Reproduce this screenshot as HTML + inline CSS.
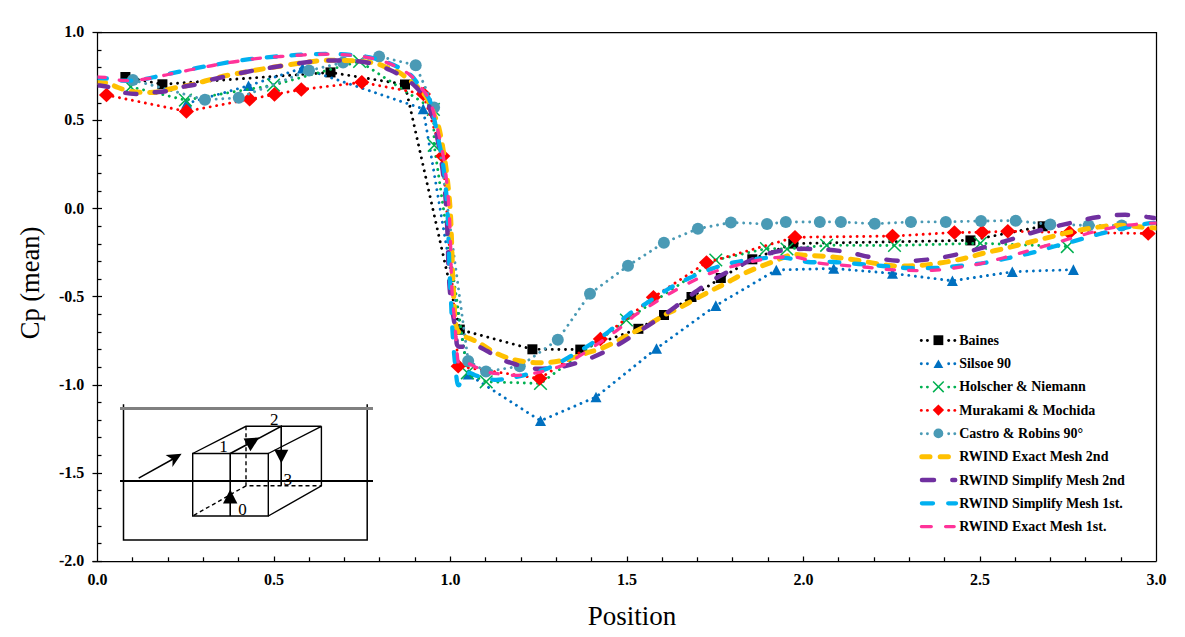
<!DOCTYPE html>
<html><head><meta charset="utf-8"><title>Cp chart</title>
<style>
html,body{margin:0;padding:0;background:#fff;}
body{width:1185px;height:637px;overflow:hidden;font-family:"Liberation Serif",serif;}
svg{display:block;position:absolute;left:0;top:0;}
</style></head>
<body>
<svg width="1185" height="637" viewBox="0 0 1185 637">
<rect width="1185" height="637" fill="#fff"/>
<g stroke="#000" stroke-width="1.25" fill="none" shape-rendering="auto">
<path d="M97.5 32.5 H1156.5 V561.5"/>
<path d="M97.5 32.5 V561.5"/>
<path d="M92.5 561.5 H1156.5"/>
<path d="M92.5 32.5 H102"/>
<path d="M97.5 50.5 H101.5"/>
<path d="M97.5 67.5 H101.5"/>
<path d="M97.5 85.5 H101.5"/>
<path d="M97.5 103.5 H101.5"/>
<path d="M92.5 120.5 H102"/>
<path d="M97.5 138.5 H101.5"/>
<path d="M97.5 155.5 H101.5"/>
<path d="M97.5 173.5 H101.5"/>
<path d="M97.5 191.5 H101.5"/>
<path d="M92.5 208.5 H102"/>
<path d="M97.5 226.5 H101.5"/>
<path d="M97.5 244.5 H101.5"/>
<path d="M97.5 261.5 H101.5"/>
<path d="M97.5 279.5 H101.5"/>
<path d="M92.5 296.5 H102"/>
<path d="M97.5 314.5 H101.5"/>
<path d="M97.5 332.5 H101.5"/>
<path d="M97.5 349.5 H101.5"/>
<path d="M97.5 367.5 H101.5"/>
<path d="M92.5 385.5 H102"/>
<path d="M97.5 402.5 H101.5"/>
<path d="M97.5 420.5 H101.5"/>
<path d="M97.5 437.5 H101.5"/>
<path d="M97.5 455.5 H101.5"/>
<path d="M92.5 473.5 H102"/>
<path d="M97.5 490.5 H101.5"/>
<path d="M97.5 508.5 H101.5"/>
<path d="M97.5 526.5 H101.5"/>
<path d="M97.5 543.5 H101.5"/>
<path d="M92.5 561.5 H102"/>
<path d="M132.5 561.5 V557.3"/>
<path d="M168.5 561.5 V557.3"/>
<path d="M203.5 561.5 V557.3"/>
<path d="M238.5 561.5 V557.3"/>
<path d="M274.5 561.5 V556.5"/>
<path d="M309.5 561.5 V557.3"/>
<path d="M344.5 561.5 V557.3"/>
<path d="M379.5 561.5 V557.3"/>
<path d="M415.5 561.5 V557.3"/>
<path d="M450.5 561.5 V556.5"/>
<path d="M485.5 561.5 V557.3"/>
<path d="M521.5 561.5 V557.3"/>
<path d="M556.5 561.5 V557.3"/>
<path d="M591.5 561.5 V557.3"/>
<path d="M627.5 561.5 V556.5"/>
<path d="M662.5 561.5 V557.3"/>
<path d="M697.5 561.5 V557.3"/>
<path d="M732.5 561.5 V557.3"/>
<path d="M768.5 561.5 V557.3"/>
<path d="M803.5 561.5 V556.5"/>
<path d="M838.5 561.5 V557.3"/>
<path d="M874.5 561.5 V557.3"/>
<path d="M909.5 561.5 V557.3"/>
<path d="M944.5 561.5 V557.3"/>
<path d="M980.5 561.5 V556.5"/>
<path d="M1015.5 561.5 V557.3"/>
<path d="M1050.5 561.5 V557.3"/>
<path d="M1085.5 561.5 V557.3"/>
<path d="M1121.5 561.5 V557.3"/>
</g>
<g font-family="Liberation Serif" font-weight="bold" font-size="16" fill="#000">
<text x="84.3" y="37" text-anchor="end">1.0</text>
<text x="84.3" y="125.2" text-anchor="end">0.5</text>
<text x="84.3" y="214.1" text-anchor="end">0.0</text>
<text x="84.3" y="302.2" text-anchor="end">-0.5</text>
<text x="84.3" y="389.6" text-anchor="end">-1.0</text>
<text x="84.3" y="477.7" text-anchor="end">-1.5</text>
<text x="84.3" y="565.8" text-anchor="end">-2.0</text>
<text x="97.5" y="585" text-anchor="middle">0.0</text>
<text x="274" y="585" text-anchor="middle">0.5</text>
<text x="450.5" y="585" text-anchor="middle">1.0</text>
<text x="627" y="585" text-anchor="middle">1.5</text>
<text x="803.5" y="585" text-anchor="middle">2.0</text>
<text x="980" y="585" text-anchor="middle">2.5</text>
<text x="1156.5" y="585" text-anchor="middle">3.0</text>
</g>
<text x="632" y="625" text-anchor="middle" font-family="Liberation Serif" font-size="27" fill="#000">Position</text>
<text transform="translate(38.6 283) rotate(-90)" text-anchor="middle" font-family="Liberation Serif" font-size="26.5" fill="#000">Cp (mean)</text>
<g stroke="#000" stroke-width="1.5" fill="none" stroke-linecap="round">
<path d="M123.5 404.3 V540 H367.2 V404.3" stroke-linecap="butt"/>
</g>
<path d="M120 408.5 H373" stroke="#808080" stroke-width="2.8"/>
<path d="M120 481 H373" stroke="#000" stroke-width="2"/>
<g stroke="#000" stroke-width="1.4" fill="none">
<path d="M192.7 453.5 H268.3 V516 H192.7 Z"/>
<path d="M192.7 453.5 L246 426.3 H321.4 L268.3 453.5 M321.4 426.3 V485.8 L268.3 516"/>
<path d="M246 426.3 V485.8 H321.4 M246 485.8 L192.7 516" stroke-dasharray="4 3"/>
<path d="M230.2 516 V453.5 L281.2 426.3 V485.8" stroke-width="1.6"/>
</g>
<path d="M230.2 489.6 L237.4 503.4 L223.0 503.4Z" fill="#000"/>
<path d="M243.6 438.4 L259.2 437.6 L250.4 451.2Z" fill="#000"/>
<path d="M274.3 449.7 L288.3 449.7 L281.3 463.2Z" fill="#000"/>
<path d="M138.7 478.2 L174 458.5" stroke="#000" stroke-width="1.5"/>
<path d="M181.6 453.8 L165.6 455.0 L172.6 459.6 L172.4 467.0Z" fill="#000"/>
<g font-family="Liberation Serif" font-size="17" fill="#000">
<text x="219.2" y="452.3">1</text>
<text x="270" y="424.8">2</text>
<text x="283.4" y="484.8">3</text>
<text x="238.2" y="514.8">0</text>
</g>
<path d="M125.4 77 L162.4 84.3 L330.5 72.4 L405 84.5 L459.8 329.6 L532.4 349.3 L580.3 349.6 L638.4 328.8 L664 315 L691.5 297 L720.8 278 L752.3 259.3 L793.3 243.6 L970.4 240.4 L1042.7 226.3" stroke="#000000" stroke-width="2.9" stroke-linecap="round" stroke-dasharray="0.01 6.6" fill="none"/>
<rect x="120.4" y="72" width="10" height="10" fill="#000000"/>
<rect x="157.4" y="79.3" width="10" height="10" fill="#000000"/>
<rect x="325.5" y="67.4" width="10" height="10" fill="#000000"/>
<rect x="400" y="79.5" width="10" height="10" fill="#000000"/>
<rect x="454.8" y="324.6" width="10" height="10" fill="#000000"/>
<rect x="527.4" y="344.3" width="10" height="10" fill="#000000"/>
<rect x="575.3" y="344.6" width="10" height="10" fill="#000000"/>
<rect x="633.4" y="323.8" width="10" height="10" fill="#000000"/>
<rect x="659" y="310" width="10" height="10" fill="#000000"/>
<rect x="686.5" y="292" width="10" height="10" fill="#000000"/>
<rect x="715.8" y="273" width="10" height="10" fill="#000000"/>
<rect x="747.3" y="254.3" width="10" height="10" fill="#000000"/>
<rect x="788.3" y="238.6" width="10" height="10" fill="#000000"/>
<rect x="965.4" y="235.4" width="10" height="10" fill="#000000"/>
<rect x="1037.7" y="221.3" width="10" height="10" fill="#000000"/>
<path d="M186.6 103.5 L248.5 85.7 L302.5 68.1 L423.2 108.9 L468.2 374.3 L540.5 420.8 L596 397 L656.5 348.5 L715.8 305.6 L776.3 270 L833.7 268.5 L892.5 273.4 L952.4 280.8 L1012.3 271.8 L1073.4 269.6" stroke="#0070C0" stroke-width="2.9" stroke-linecap="round" stroke-dasharray="0.01 6.6" fill="none"/>
<path d="M186.6 98.2 L192.1 108.8 L181.1 108.8Z" fill="#0070C0"/>
<path d="M248.5 80.4 L254 91 L243 91Z" fill="#0070C0"/>
<path d="M302.5 62.8 L308 73.4 L297 73.4Z" fill="#0070C0"/>
<path d="M423.2 103.6 L428.7 114.2 L417.7 114.2Z" fill="#0070C0"/>
<path d="M468.2 369 L473.7 379.6 L462.7 379.6Z" fill="#0070C0"/>
<path d="M540.5 415.5 L546 426.1 L535 426.1Z" fill="#0070C0"/>
<path d="M596 391.7 L601.5 402.3 L590.5 402.3Z" fill="#0070C0"/>
<path d="M656.5 343.2 L662 353.8 L651 353.8Z" fill="#0070C0"/>
<path d="M715.8 300.3 L721.3 310.9 L710.3 310.9Z" fill="#0070C0"/>
<path d="M776.3 264.7 L781.8 275.3 L770.8 275.3Z" fill="#0070C0"/>
<path d="M833.7 263.2 L839.2 273.8 L828.2 273.8Z" fill="#0070C0"/>
<path d="M892.5 268.1 L898 278.7 L887 278.7Z" fill="#0070C0"/>
<path d="M952.4 275.5 L957.9 286.1 L946.9 286.1Z" fill="#0070C0"/>
<path d="M1012.3 266.5 L1017.8 277.1 L1006.8 277.1Z" fill="#0070C0"/>
<path d="M1073.4 264.3 L1078.9 274.9 L1067.9 274.9Z" fill="#0070C0"/>
<path d="M130.7 86.8 L185.4 100.1 L273.5 85.1 L359.6 61.4 L433.4 109.4 L434.2 145.3 L467.4 372.8 L486.2 381.8 L540.5 383.5 L626.4 320 L715.8 260 L766.4 248.6 L787 249 L826.6 245.3 L894.5 245.5 L980.4 243.3 L1067.3 246.6" stroke="#00B050" stroke-width="2.9" stroke-linecap="round" stroke-dasharray="0.01 6.6" fill="none"/>
<path d="M124.4 80.5 L137 93.1 M124.4 93.1 L137 80.5" stroke="#00B050" stroke-width="1.5" fill="none"/>
<path d="M179.1 93.8 L191.7 106.4 M179.1 106.4 L191.7 93.8" stroke="#00B050" stroke-width="1.5" fill="none"/>
<path d="M267.2 78.8 L279.8 91.4 M267.2 91.4 L279.8 78.8" stroke="#00B050" stroke-width="1.5" fill="none"/>
<path d="M353.3 55.1 L365.9 67.7 M353.3 67.7 L365.9 55.1" stroke="#00B050" stroke-width="1.5" fill="none"/>
<path d="M427.1 103.1 L439.7 115.7 M427.1 115.7 L439.7 103.1" stroke="#00B050" stroke-width="1.5" fill="none"/>
<path d="M427.9 139 L440.5 151.6 M427.9 151.6 L440.5 139" stroke="#00B050" stroke-width="1.5" fill="none"/>
<path d="M461.1 366.5 L473.7 379.1 M461.1 379.1 L473.7 366.5" stroke="#00B050" stroke-width="1.5" fill="none"/>
<path d="M479.9 375.5 L492.5 388.1 M479.9 388.1 L492.5 375.5" stroke="#00B050" stroke-width="1.5" fill="none"/>
<path d="M534.2 377.2 L546.8 389.8 M534.2 389.8 L546.8 377.2" stroke="#00B050" stroke-width="1.5" fill="none"/>
<path d="M620.1 313.7 L632.7 326.3 M620.1 326.3 L632.7 313.7" stroke="#00B050" stroke-width="1.5" fill="none"/>
<path d="M709.5 253.7 L722.1 266.3 M709.5 266.3 L722.1 253.7" stroke="#00B050" stroke-width="1.5" fill="none"/>
<path d="M760.1 242.3 L772.7 254.9 M760.1 254.9 L772.7 242.3" stroke="#00B050" stroke-width="1.5" fill="none"/>
<path d="M780.7 242.7 L793.3 255.3 M780.7 255.3 L793.3 242.7" stroke="#00B050" stroke-width="1.5" fill="none"/>
<path d="M820.3 239 L832.9 251.6 M820.3 251.6 L832.9 239" stroke="#00B050" stroke-width="1.5" fill="none"/>
<path d="M888.2 239.2 L900.8 251.8 M888.2 251.8 L900.8 239.2" stroke="#00B050" stroke-width="1.5" fill="none"/>
<path d="M974.1 237 L986.7 249.6 M974.1 249.6 L986.7 237" stroke="#00B050" stroke-width="1.5" fill="none"/>
<path d="M1061 240.3 L1073.6 252.9 M1061 252.9 L1073.6 240.3" stroke="#00B050" stroke-width="1.5" fill="none"/>
<path d="M106.5 95 L186.4 111.4 L249.6 99.3 L274.5 94.4 L301.3 89.5 L361.8 82.3 L423.4 94 L442.8 156.1 L458.2 366.2 L539.7 378.5 L600.4 339 L653.4 297.2 L706.5 262.6 L795 237.3 L892.5 236.1 L954.4 232.5 L982.2 232.3 L1007.8 231.3 L1069.4 232.5 L1148.2 233.5" stroke="#FF0000" stroke-width="2.9" stroke-linecap="round" stroke-dasharray="0.01 6.6" fill="none"/>
<path d="M106.5 87.7 L114.1 95 L106.5 102.3 L98.9 95Z" fill="#FF0000"/>
<path d="M186.4 104.1 L194 111.4 L186.4 118.7 L178.8 111.4Z" fill="#FF0000"/>
<path d="M249.6 92 L257.2 99.3 L249.6 106.6 L242 99.3Z" fill="#FF0000"/>
<path d="M274.5 87.1 L282.1 94.4 L274.5 101.7 L266.9 94.4Z" fill="#FF0000"/>
<path d="M301.3 82.2 L308.9 89.5 L301.3 96.8 L293.7 89.5Z" fill="#FF0000"/>
<path d="M361.8 75 L369.4 82.3 L361.8 89.6 L354.2 82.3Z" fill="#FF0000"/>
<path d="M423.4 86.7 L431 94 L423.4 101.3 L415.8 94Z" fill="#FF0000"/>
<path d="M442.8 148.8 L450.4 156.1 L442.8 163.4 L435.2 156.1Z" fill="#FF0000"/>
<path d="M458.2 358.9 L465.8 366.2 L458.2 373.5 L450.6 366.2Z" fill="#FF0000"/>
<path d="M539.7 371.2 L547.3 378.5 L539.7 385.8 L532.1 378.5Z" fill="#FF0000"/>
<path d="M600.4 331.7 L608 339 L600.4 346.3 L592.8 339Z" fill="#FF0000"/>
<path d="M653.4 289.9 L661 297.2 L653.4 304.5 L645.8 297.2Z" fill="#FF0000"/>
<path d="M706.5 255.3 L714.1 262.6 L706.5 269.9 L698.9 262.6Z" fill="#FF0000"/>
<path d="M795 230 L802.6 237.3 L795 244.6 L787.4 237.3Z" fill="#FF0000"/>
<path d="M892.5 228.8 L900.1 236.1 L892.5 243.4 L884.9 236.1Z" fill="#FF0000"/>
<path d="M954.4 225.2 L962 232.5 L954.4 239.8 L946.8 232.5Z" fill="#FF0000"/>
<path d="M982.2 225 L989.8 232.3 L982.2 239.6 L974.6 232.3Z" fill="#FF0000"/>
<path d="M1007.8 224 L1015.4 231.3 L1007.8 238.6 L1000.2 231.3Z" fill="#FF0000"/>
<path d="M1069.4 225.2 L1077 232.5 L1069.4 239.8 L1061.8 232.5Z" fill="#FF0000"/>
<path d="M1148.2 226.2 L1155.8 233.5 L1148.2 240.8 L1140.6 233.5Z" fill="#FF0000"/>
<path d="M132.9 80 L204.9 99.8 L238.8 97.8 L309 70.6 L343.1 62.5 L379.1 56.4 L415.7 65.3 L434.1 107.6 L468.2 361 L486 371.6 L519.8 366.2 L557.8 339.8 L590 293.7 L628 265.8 L663.9 242.7 L697.9 228.7 L730.9 222.5 L767 224 L785.8 222 L819.8 221.9 L840.9 221.9 L874.7 223.8 L910.9 221.9 L945.8 221.9 L981 221 L1015.7 220.7 L1050.3 224.5 L1088.6 225.4 L1121.7 225.4" stroke="#4A9AB5" stroke-width="2.9" stroke-linecap="round" stroke-dasharray="0.01 6.6" fill="none"/>
<circle cx="132.9" cy="80" r="6" fill="#4A9AB5"/>
<circle cx="204.9" cy="99.8" r="6" fill="#4A9AB5"/>
<circle cx="238.8" cy="97.8" r="6" fill="#4A9AB5"/>
<circle cx="309" cy="70.6" r="6" fill="#4A9AB5"/>
<circle cx="343.1" cy="62.5" r="6" fill="#4A9AB5"/>
<circle cx="379.1" cy="56.4" r="6" fill="#4A9AB5"/>
<circle cx="415.7" cy="65.3" r="6" fill="#4A9AB5"/>
<circle cx="434.1" cy="107.6" r="6" fill="#4A9AB5"/>
<circle cx="468.2" cy="361" r="6" fill="#4A9AB5"/>
<circle cx="486" cy="371.6" r="6" fill="#4A9AB5"/>
<circle cx="519.8" cy="366.2" r="6" fill="#4A9AB5"/>
<circle cx="557.8" cy="339.8" r="6" fill="#4A9AB5"/>
<circle cx="590" cy="293.7" r="6" fill="#4A9AB5"/>
<circle cx="628" cy="265.8" r="6" fill="#4A9AB5"/>
<circle cx="663.9" cy="242.7" r="6" fill="#4A9AB5"/>
<circle cx="697.9" cy="228.7" r="6" fill="#4A9AB5"/>
<circle cx="730.9" cy="222.5" r="6" fill="#4A9AB5"/>
<circle cx="767" cy="224" r="6" fill="#4A9AB5"/>
<circle cx="785.8" cy="222" r="6" fill="#4A9AB5"/>
<circle cx="819.8" cy="221.9" r="6" fill="#4A9AB5"/>
<circle cx="840.9" cy="221.9" r="6" fill="#4A9AB5"/>
<circle cx="874.7" cy="223.8" r="6" fill="#4A9AB5"/>
<circle cx="910.9" cy="221.9" r="6" fill="#4A9AB5"/>
<circle cx="945.8" cy="221.9" r="6" fill="#4A9AB5"/>
<circle cx="981" cy="221" r="6" fill="#4A9AB5"/>
<circle cx="1015.7" cy="220.7" r="6" fill="#4A9AB5"/>
<circle cx="1050.3" cy="224.5" r="6" fill="#4A9AB5"/>
<circle cx="1088.6" cy="225.4" r="6" fill="#4A9AB5"/>
<circle cx="1121.7" cy="225.4" r="6" fill="#4A9AB5"/>
<defs><clipPath id="pa"><rect x="97.6" y="20" width="1058.9" height="545"/></clipPath></defs>
<g clip-path="url(#pa)">
<path d="M97 82.4 C98.8 82.5 104.5 82.4 108 83.2 C111.5 84 114.3 86.2 118 87.5 C121.7 88.8 125.5 90.4 130 91.2 C134.5 92 140.5 92.4 145 92.5 C149.5 92.6 152.8 92.6 157 92 C161.2 91.4 165.8 89.9 170 89 C174.2 88.1 177.8 87.3 182 86.5 C186.2 85.7 191.2 84.9 195 84 C198.8 83.1 200.3 82.3 205 81 C209.7 79.7 216.2 77.8 223 76.3 C229.8 74.8 237.9 73.4 246 71.9 C254.1 70.4 262.3 69 271.5 67.5 C280.7 66 291.8 64.2 301 63 C310.2 61.8 317.8 60.7 326.5 60.3 C335.2 59.9 346.2 60.5 353 60.8 C359.8 61.1 363.1 61.4 367.3 61.9 C371.5 62.4 374.8 63.1 378.2 64.1 C381.6 65.1 384.5 66.6 388 68 C391.5 69.4 395.7 70.6 399 72.4 C402.3 74.2 405.4 77.1 408 79 C410.6 80.9 412.3 81.9 414.5 83.9 C416.7 85.9 419 88.7 421 91 C423 93.3 424.5 93.9 426.6 97.6 C428.7 101.3 431.4 107.9 433.4 113 C435.5 118.1 437.1 120.9 438.9 128 C440.7 135.1 442.7 146.7 444.1 155.6 C445.6 164.5 446.6 172.4 447.6 181.5 C448.6 190.6 449.5 199.9 450.2 210 C450.9 220.1 451.2 231.3 451.6 241.8 C452 252.3 452.2 263.3 452.6 273 C453 282.7 453.6 292.2 454 300 C454.4 307.8 454.6 314.9 455.2 320 C455.8 325.1 456.1 327.8 457.6 330.5 C459.1 333.2 461.6 334.5 464 336 C466.4 337.5 469.3 338.2 472 339.5 C474.7 340.8 476.7 341.4 480.3 343.5 C483.9 345.6 488.7 349.4 493.8 352 C498.9 354.6 505 357.2 511 358.9 C517 360.6 523.7 361.7 530 362.3 C536.3 362.9 542.6 362.8 549 362.3 C555.4 361.8 562.4 360.6 568.5 359.1 C574.6 357.6 580 355.2 585.4 353.4 C590.8 351.6 595.8 350.5 601 348.5 C606.2 346.5 611.6 343.9 616.5 341.4 C621.4 338.9 625.4 336.4 630.6 333.7 C635.8 331 641.7 328.5 647.6 325.2 C653.5 321.9 660.8 316.9 666.1 314.1 C671.3 311.3 674.1 310.7 678.9 308.2 C683.8 305.7 689.7 302.1 695.1 299.2 C700.6 296.3 706.3 293.2 711.4 290.6 C716.4 288 720.5 286.1 725.5 283.5 C730.5 280.9 736 277.5 741.2 274.9 C746.4 272.3 751.5 270.1 756.9 267.9 C762.3 265.7 767.7 263.8 773.4 261.6 C779.1 259.5 785.2 256 790.9 255 C796.6 254 801.7 255.2 807.6 255.4 C813.5 255.6 820.3 255.9 826.4 256.4 C832.5 256.9 838.2 257.6 844.1 258.4 C850 259.2 856 260.1 861.8 261 C867.6 261.9 873.1 263.2 879 264 C884.9 264.8 890.8 265.8 897 266 C903.2 266.2 910.1 265.8 916.2 265.5 C922.3 265.2 927.5 264.8 933.4 264 C939.3 263.2 945.9 262.1 951.7 261 C957.5 259.9 962.8 258.8 968.4 257.4 C974 256 979.4 254.2 985.1 252.8 C990.7 251.4 996.6 250.3 1002.3 249 C1008 247.7 1013.6 246.2 1019.2 244.8 C1024.8 243.4 1030.5 242 1036.1 240.6 C1041.7 239.2 1047.3 237.7 1052.9 236.3 C1058.5 234.9 1064 233.3 1069.8 232.1 C1075.6 230.8 1081.6 229.8 1087.5 228.8 C1093.4 227.8 1099.2 226.8 1105.3 226.2 C1111.3 225.6 1117.8 225.2 1123.8 225.4 C1129.8 225.6 1135.8 226.7 1141.5 227.1 C1147.2 227.5 1155.1 227.8 1157.8 228" stroke="#FFC000" stroke-width="5" stroke-linecap="round" stroke-linejoin="round" stroke-dasharray="8.5 9.5" stroke-dashoffset="0" fill="none"/>
<path d="M97 85.2 C99.3 85.6 106.3 86.2 111 87.5 C115.7 88.8 120.3 91.7 125 92.8 C129.7 93.9 134.3 94 139 94 C143.7 94 148.3 93 153 92.5 C157.7 92 162.2 91.9 167 91 C171.8 90.1 177.3 88.1 182 87 C186.7 85.9 190.5 85.7 195 84.6 C199.5 83.5 204.3 81.5 209 80.2 C213.7 78.9 216.8 78.4 223 77 C229.2 75.6 237.9 73.6 246 72 C254.1 70.4 262.3 69 271.5 67.5 C280.7 66 291.8 64.2 301 63 C310.2 61.8 317.8 60.8 326.5 60.5 C335.2 60.2 346.2 60.7 353 61 C359.8 61.3 362.5 61.7 367 62.5 C371.5 63.3 376.2 64.8 380 66 C383.8 67.2 386.8 68.6 390 70 C393.2 71.4 396 72.8 399 74.5 C402 76.2 405.4 78.7 408 80.5 C410.6 82.3 412.3 83.5 414.5 85.5 C416.7 87.5 419 90.2 421 92.5 C423 94.8 424.9 95.4 426.6 99 C428.3 102.6 430 109.2 431.5 114 C432.9 118.8 433.8 121.1 435.3 128 C436.8 134.9 439.1 146.7 440.5 155.6 C441.9 164.5 443 172.4 444 181.5 C445 190.6 445.8 199.9 446.4 210 C447 220.1 447.4 231.3 447.8 241.8 C448.2 252.3 448.2 263.3 448.7 273 C449.2 282.7 449.9 291.8 450.8 300 C451.7 308.2 453.3 315.7 454.2 322 C455.1 328.3 455.6 333.9 456.3 338 C457 342.1 455.5 345.2 458.5 346.5 C461.5 347.8 469.8 344.8 474.5 345.5 C479.2 346.2 482.6 348.7 487 351 C491.4 353.3 496.1 356.9 500.9 359.2 C505.7 361.4 510.9 363 516 364.5 C521.1 366 526.6 367.7 531.8 368.4 C537 369.1 541.6 368.9 547 368.5 C552.4 368.1 557.3 367.8 564.2 366.2 C571.1 364.6 579.7 362.4 588.2 359.1 C596.7 355.8 606.6 351 615.1 346.4 C623.6 341.8 631.3 336.3 639.1 331.3 C646.9 326.3 654 322 661.8 316.6 C669.6 311.2 677.8 304.7 685.7 299 C693.6 293.3 701.6 287.1 709.2 282.3 C716.8 277.5 723.3 274.2 731.4 270 C739.5 265.8 748.8 260.4 758 257 C767.2 253.6 776.7 251.1 786.6 249.8 C796.5 248.5 807.3 248.8 817.2 249.1 C827.1 249.4 836.5 250.3 846 251.8 C855.5 253.3 864.8 256.4 874.4 257.9 C884 259.4 893.8 260.8 903.5 261 C913.2 261.2 923.3 260.2 932.9 258.9 C942.5 257.6 951.8 255.6 961.2 253.4 C970.6 251.2 980 248.4 989.1 245.8 C998.2 243.2 1006.7 240.7 1015.6 238 C1024.5 235.3 1033.3 232.1 1042.6 229.6 C1051.9 227.1 1061.9 224.9 1071.3 222.8 C1080.7 220.7 1089.7 218.2 1099.1 216.9 C1108.5 215.6 1118.6 214.7 1127.8 214.9 C1137 215.1 1149.8 217.5 1154.2 218" stroke="#7030A0" stroke-width="4.5" stroke-linecap="round" stroke-linejoin="round" stroke-dasharray="11.2 18.3" stroke-dashoffset="0" fill="none"/>
<path d="M97 78 C98.7 78.1 103.2 78.1 107 78.5 C110.8 78.9 115.7 80.2 120 80.5 C124.3 80.8 128.8 80.8 133 80.5 C137.2 80.2 141 79.7 145 79 C149 78.3 153.2 77.3 157 76.5 C160.8 75.7 164.2 74.8 168 74 C171.8 73.2 176 72.3 180 71.5 C184 70.7 187.8 69.8 192 69 C196.2 68.2 201.2 67.2 205 66.5 C208.8 65.8 210.3 65.6 215 64.8 C219.7 64 226.2 62.6 233 61.5 C239.8 60.4 248.2 59.3 256 58.4 C263.8 57.5 271.9 56.9 280 56.2 C288.1 55.6 296.2 54.9 304.5 54.5 C312.8 54.1 322.1 53.9 330 54 C337.9 54.1 344.7 54.3 352 55 C359.3 55.7 368.5 57.2 374 58.3 C379.5 59.4 381.6 60.5 385 61.7 C388.4 62.9 391.4 64 394.7 65.5 C398 67 401.7 69.2 404.6 71 C407.5 72.8 409.9 74.1 412.3 76.5 C414.7 78.9 416.8 82.5 419 85.2 C421.2 88 423.7 90.4 425.5 93 C427.3 95.6 428.6 97.2 430 101 C431.3 104.8 432.4 110.3 433.6 116 C434.9 121.7 436.1 128.4 437.4 135 C438.7 141.6 440.4 147.8 441.7 155.6 C443 163.3 444.2 172.4 445.2 181.5 C446.1 190.6 446.8 199.9 447.4 210 C448 220.1 448.4 236.5 448.6 241.8" stroke="#00B0F0" stroke-width="4.3" stroke-linecap="round" stroke-linejoin="round" stroke-dasharray="9.8 14.8" stroke-dashoffset="0" fill="none"/>
<path d="M448.6 241.8 C448.8 247 449.2 262.5 449.6 273 C450 283.5 450.7 295.7 451.2 304.8 C451.6 313.9 451.8 319.9 452.3 327.9 C452.8 335.9 453.2 343.7 454 352.6 C454.8 361.5 456.2 376.1 457 381.5 C457.8 386.9 458.7 384.4 459 385" stroke="#00B0F0" stroke-width="4.3" stroke-linecap="round" stroke-linejoin="round" stroke-dasharray="9.8 14.8" stroke-dashoffset="12.6" fill="none"/>
<path d="M459 385 C460.5 383.1 465.1 374.9 468 373.4 C470.9 371.8 473.5 375 476.2 375.7 C478.9 376.4 481.4 376.6 484.4 377.3 C487.4 378 491 379.5 494.3 379.8 C497.6 380.1 499.4 379.8 504.2 379 C509 378.2 516 377.1 523.2 375.3 C530.4 373.5 540.3 371.1 547.4 368.4 C554.5 365.7 558.8 362.9 565.6 359.1 C572.4 355.3 581 350.3 588.2 345.7 C595.4 341.1 602 336.8 608.7 331.6 C615.4 326.4 622 319.4 628.4 314.6 C634.8 309.8 640.6 306.9 647.3 302.6 C653.9 298.3 661.2 293.1 668.2 289 C675.2 284.9 682.1 281.4 689.4 278 C696.7 274.6 704.7 271.2 712.2 268.6 C719.6 266 726 264.1 734.1 262.4 C742.2 260.7 752.2 259.1 760.8 258.4 C769.3 257.6 777.6 257.3 785.4 257.9 C793.2 258.5 799.8 261.3 807.8 262 C815.8 262.7 824.7 261.7 833.1 262 C841.5 262.3 850.1 263.3 858.4 264 C866.7 264.7 874.5 265.3 882.7 266 C890.9 266.7 899.2 267.7 907.8 268 C916.4 268.3 925.7 268.3 934.1 268 C942.5 267.7 950.1 266.8 958.4 266 C966.7 265.2 975.6 264.3 983.7 263 C991.7 261.7 998.9 259.9 1006.7 258.3 C1014.5 256.7 1022.4 255.2 1030.3 253.2 C1038.2 251.2 1046.3 248.6 1053.9 246.5 C1061.5 244.4 1068.3 242.7 1075.9 240.6 C1083.5 238.5 1091.8 236 1099.5 234 C1107.2 232 1114.4 230.2 1122.3 228.5 C1130.2 226.8 1141.2 224.6 1146.7 223.7 C1152.2 222.8 1154 223 1155.4 222.8" stroke="#00B0F0" stroke-width="4.3" stroke-linecap="round" stroke-linejoin="round" stroke-dasharray="9.8 14.8" stroke-dashoffset="-15.5" fill="none"/>
<path d="M97 77 C98.7 77.1 103.2 77 107 77.5 C110.8 78 115.7 79.8 120 80.3 C124.3 80.8 128.8 80.7 133 80.5 C137.2 80.3 141 79.6 145 79 C149 78.4 153.2 77.8 157 77 C160.8 76.2 164.2 75.3 168 74.5 C171.8 73.7 176 72.8 180 72 C184 71.2 187.8 70.3 192 69.5 C196.2 68.7 201.2 67.8 205 67 C208.8 66.2 210.3 65.8 215 65 C219.7 64.2 226.2 63 233 62 C239.8 61 248.2 59.6 256 58.7 C263.8 57.8 271.9 57.1 280 56.5 C288.1 55.9 296.2 55.2 304.5 54.8 C312.8 54.4 322.1 54.1 330 54.2 C337.9 54.3 344.7 54.6 352 55.3 C359.3 56 368.5 57.5 374 58.6 C379.5 59.7 381.6 60.8 385 62 C388.4 63.2 391.4 64.2 394.7 65.8 C398 67.3 401.7 69.5 404.6 71.3 C407.5 73.1 409.9 74.4 412.3 76.8 C414.7 79.2 416.8 82.8 419 85.5 C421.2 88.2 423.7 90.6 425.5 93.2 C427.3 95.8 428.5 97.2 430 101 C431.5 104.8 433.1 110.3 434.6 116 C436.1 121.7 437.5 128.4 438.9 135 C440.3 141.6 441.9 147.8 443.2 155.6 C444.5 163.3 445.7 172.4 446.7 181.5 C447.7 190.6 448.5 199.9 449.1 210 C449.7 220.1 450.1 231.3 450.5 241.8 C450.9 252.3 451 264.1 451.3 273 C451.6 281.9 451.7 286.7 452.2 295 C452.8 303.3 454.1 314.5 454.8 323 C455.5 331.5 455.9 339 456.6 346 C457.3 353 457.3 362.1 459.2 365 C461.1 367.9 465.2 363.1 468 363.5 C470.8 363.9 472.6 365.9 476.2 367.4 C479.8 368.9 485.3 371.3 489.4 372.4 C493.5 373.5 496.1 373.5 500.9 374 C505.7 374.5 511.4 375.6 518 375.3 C524.6 375 532.7 373.8 540.4 372 C548.1 370.2 557.4 367.6 564.2 364.7 C571 361.8 575.6 358.4 581.2 354.9 C586.9 351.4 592.1 347.7 598.1 343.6 C604.1 339.5 611 334.8 617.2 330.1 C623.4 325.4 629 319.8 635 315.3 C641.1 310.8 647.5 307.2 653.7 303.3 C659.9 299.4 665.6 295.9 672 292.2 C678.5 288.5 685.8 284.5 692.5 281.2 C699.2 277.9 705.4 275.1 712.1 272.6 C718.8 270.1 726 268.1 732.5 266.3 C739 264.5 744.2 263 751.3 261.6 C758.4 260.2 767.4 258.4 774.9 257.7 C782.4 257 788.9 256.3 796.1 257.2 C803.4 258.1 811 261.7 818.4 263 C825.8 264.3 833 264.3 840.6 265 C848.2 265.7 856.3 266.3 863.9 267 C871.5 267.7 878.6 268.8 886.2 269.4 C893.8 270 901.6 270.2 909.3 270.4 C917 270.6 925.1 270.8 932.5 270.4 C939.9 270 946.5 269 953.8 268 C961.1 267 968.8 265.9 976.1 264.5 C983.4 263.1 990.4 261.2 997.4 259.4 C1004.4 257.6 1011.2 255.7 1018.3 253.7 C1025.4 251.7 1033.2 249.4 1040.2 247.3 C1047.2 245.2 1053.6 243.4 1060.5 241.4 C1067.4 239.4 1074.6 237.2 1081.6 235.2 C1088.6 233.2 1095.7 231.2 1102.7 229.6 C1109.7 228 1116.5 226.7 1123.8 225.7 C1131.1 224.7 1141.1 223.8 1146.6 223.4 C1152.1 223 1155.2 223.1 1156.9 223" stroke="#FF3399" stroke-width="3.3" stroke-linecap="round" stroke-linejoin="round" stroke-dasharray="8.3 14.2" stroke-dashoffset="0" fill="none"/>
</g>
<circle cx="921.3" cy="340.5" r="1.45" fill="#000000"/>
<circle cx="927.4" cy="340.5" r="1.45" fill="#000000"/>
<circle cx="948.7" cy="340.5" r="1.45" fill="#000000"/>
<circle cx="954.8" cy="340.5" r="1.45" fill="#000000"/>
<rect x="933.5" y="335.3" width="9.8" height="9.8" fill="#000000"/>
<circle cx="921.3" cy="363.8" r="1.45" fill="#0070C0"/>
<circle cx="927.4" cy="363.8" r="1.45" fill="#0070C0"/>
<circle cx="948.7" cy="363.8" r="1.45" fill="#0070C0"/>
<circle cx="954.8" cy="363.8" r="1.45" fill="#0070C0"/>
<path d="M938.4 359.5 L943.3 368.1 L933.5 368.1Z" fill="#0070C0"/>
<circle cx="921.3" cy="387.1" r="1.45" fill="#00B050"/>
<circle cx="927.4" cy="387.1" r="1.45" fill="#00B050"/>
<circle cx="948.7" cy="387.1" r="1.45" fill="#00B050"/>
<circle cx="954.8" cy="387.1" r="1.45" fill="#00B050"/>
<path d="M933.1 381.5 L943.7 392.1 M933.1 392.1 L943.7 381.5" stroke="#00B050" stroke-width="1.5" fill="none"/>
<circle cx="921.3" cy="410.4" r="1.45" fill="#FF0000"/>
<circle cx="927.4" cy="410.4" r="1.45" fill="#FF0000"/>
<circle cx="948.7" cy="410.4" r="1.45" fill="#FF0000"/>
<circle cx="954.8" cy="410.4" r="1.45" fill="#FF0000"/>
<path d="M938.4 404.5 L944.1 410.1 L938.4 415.7 L932.7 410.1Z" fill="#FF0000"/>
<circle cx="921.3" cy="433.7" r="1.45" fill="#4A9AB5"/>
<circle cx="927.4" cy="433.7" r="1.45" fill="#4A9AB5"/>
<circle cx="948.7" cy="433.7" r="1.45" fill="#4A9AB5"/>
<circle cx="954.8" cy="433.7" r="1.45" fill="#4A9AB5"/>
<circle cx="938.4" cy="433.4" r="4.9" fill="#4A9AB5"/>
<path d="M921.8 456.7 H950" stroke="#FFC000" stroke-width="5" stroke-linecap="round" stroke-dasharray="8.2 10.2" fill="none"/>
<path d="M922 480 H955.2" stroke="#7030A0" stroke-width="4.5" stroke-linecap="round" stroke-dasharray="12 18.3" fill="none"/>
<path d="M921.9 503.3 H956" stroke="#00B0F0" stroke-width="4.3" stroke-linecap="round" stroke-dasharray="11.1 15.2" fill="none"/>
<path d="M921.4 526.6 H954.2" stroke="#FF3399" stroke-width="3.3" stroke-linecap="round" stroke-dasharray="9.9 14.3" fill="none"/>
<g font-family="Liberation Serif" font-weight="bold" font-size="14" fill="#000">
<text x="959.2" y="344.8">Baines</text>
<text x="959.2" y="368.1">Silsoe 90</text>
<text x="959.2" y="391.4">Holscher &amp; Niemann</text>
<text x="959.2" y="414.7">Murakami &amp; Mochida</text>
<text x="959.2" y="438">Castro &amp; Robins 90&#176;</text>
<text x="959.2" y="461.3">RWIND Exact Mesh 2nd</text>
<text x="959.2" y="484.6">RWIND Simplify Mesh 2nd</text>
<text x="959.2" y="507.9">RWIND Simplify Mesh 1st.</text>
<text x="959.2" y="531.2">RWIND Exact Mesh 1st.</text>
</g>
</svg>
</body></html>
